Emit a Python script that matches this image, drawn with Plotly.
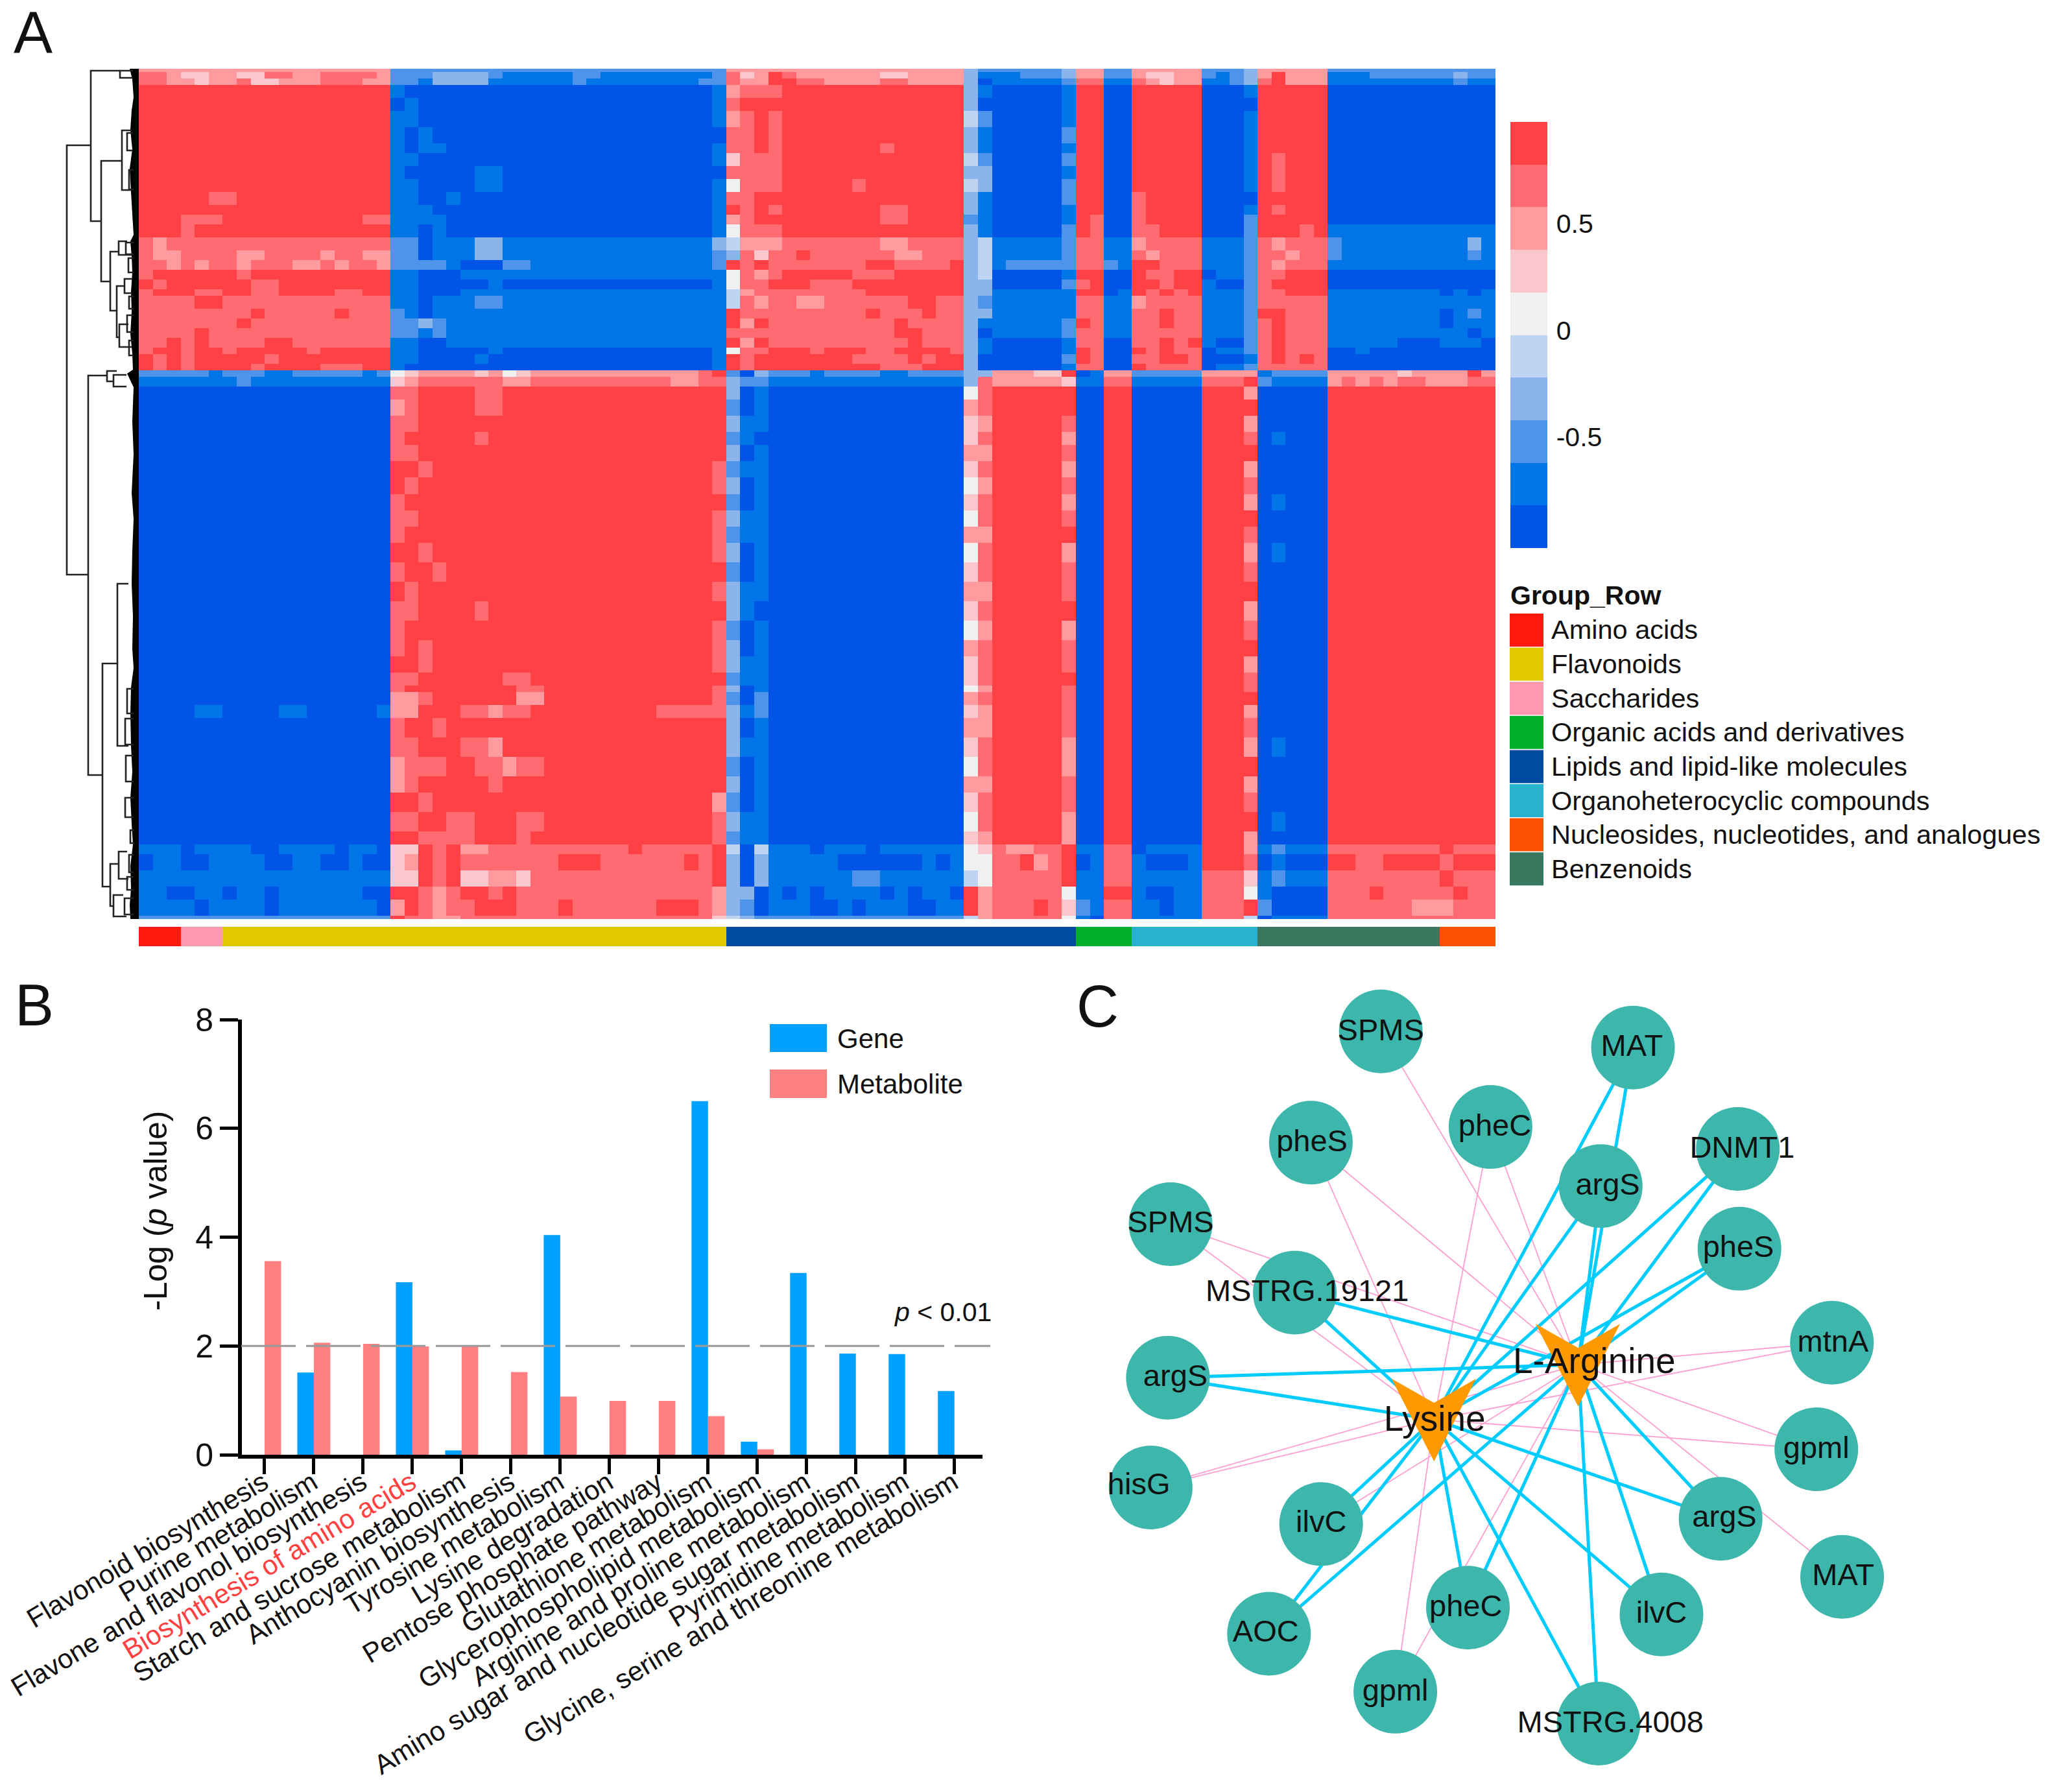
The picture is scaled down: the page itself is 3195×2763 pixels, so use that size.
import plotly.graph_objects as go

W, H = 3195, 2763
FONT = "Liberation Sans"

# ---------- Panel A: heatmap, read band by band ----------
# column blocks: L M c41 c42 c43 c44 N c59 c60 O c66 A B P Q c79 R S
# one digit = one colour step (0 deepest blue ... 9 deepest red); a short token keeps its last digit
block_widths = [18, 23, 1, 1, 1, 1, 14, 1, 1, 5, 1, 2, 2, 5, 3, 1, 5, 12]
band_rows = [1, 2, 2,
             4, 4, 5, 5, 3, 4, 4, 4, 4, 3, 3, 4,
             4, 3, 3, 3, 3, 2, 4, 3, 3, 3, 3, 2, 3, 2,
             2, 3,
             4, 5, 5, 4, 5, 5, 5, 5, 5, 5, 6, 6, 6, 6, 6, 5, 5, 4, 2, 4, 4, 6, 6, 6, 5, 6, 6, 4,
             3, 5, 5, 4, 5, 1]
band_levels = [
 "7 2 2 7 7 7 7 3 2 2 3 7 2 7 2 3 7 2",
 "887667766887788887 22233332111112211111111 2 8 6 7 98777777667777 3 1 11222 3 7 2 76677 212 3 79777 111222222322",
 "887767786677788877 22133331111112111111112 2 8 7 7 99887777887777 3 0 11111 2 8 1 87677 112 3 89777 111111111211",
 "9 1000 1 7 8 8 89 3 1 0 1 9 0 9 0 1 9 0",
 "9 0100 1 8 9 9 9 3 0 0 1 9 0 9 0 0 9 0",
 "9 1100 1 7 8 9 89 4 2 0 1 9 0 9 0 1 9 0",
 "9 1010 0 8 8 9 89 3 1 0 2 9 0 9 0 1 9 0",
 "9 1011000 1 8 8 9 89999999899999 3 1 0 1 9 0 9 0 1 9 0",
 "9 1100 1 6 8 8 89 4 2 0 2 9 0 9 0 1 989 0",
 "9 100000110 0 8 8 8 89 3 3 0 1 9 0 9 0 1 989 0",
 "9 110000110 1 5 8 8 89999989 4 3 0 2 9 0 9 0 1 989 0",
 "999998899999999999 110010000 1 8 8 9 9 3 1 0 2 9 0 89 0 0 9 0",
 "9 111000000 1 9 8 9 89999999889 3 1 0 1 9 0 899 0 1 989 0",
 "999888999999999988 111100 1 7 8 9 999999998899 2 1 0 1 98 0 89 0 2 9 0",
 "999899999999999999 110100 1 5 8 8 89 3 1 0 2 98 0 889 0 2 99989 1",
 "878888888888888888 220111331 3 4 7 7 78888888778888 3 4 1 2 8 1 78888 1 2 87888 211111111131",
 "877888877888878877 220111331 2 3 8 6 88988888877888 3 4 1 2 8 1 87888 1 2 88788 211111111121",
 "887878878887787887 222210002211 2 9 8 9 88888889988889 3 4 12 2 8 21 99888 1 2 87888 1",
 "899999989999999999 110001111 1 5 8 7 89999988899999 3 4 0 1 9 0 98899 01 2 88999 0",
 "989999998899999999 110000010 1 5 8 8 99988899999999 3 3 0 2 89 0 99899 10 2 89999 0",
 "899988998899998899 1100011 1 4 7 8 88888889999999 3 3 1 1 99 01 98989 11 2 88999 111111110101",
 "888899888888888888 110111221 1 4 8 7 88778888889988 3 2 1 1 8 1 78888 1 2 8 1",
 "888888889888889888 210111 1 9 8 8 88888889888988 3 3 1 1 8 1 88988 1 2 99888 111111110121",
 "888888898888888888 2232111 1 9 7 9 88888888898888 3 1 1 2 98 1 88988 1 2 89888 111111110111",
 "888898888888888888 2212111 1 8 8 8 88888888899888 3 0 1 2 8 1 8 1 2 89888 111111111101",
 "889898888998888888 110011 1 9 7 9 88888888889888 3 1 0 1 8 0 88989 10 2 89888 111110001110",
 "899899899999899999 1100000100 1 5 8 8 99989998899998 3 1 0 1 98 0 98988 01 2 89888 001000000",
 "989899999899999999 110000100 1 9 8 9 99999988889899 3 0 0 2 98 0 88998 0 1 89898 0",
 "989899998999988899 10000 1 9 8 9 99999999888999 3 0 0 1 8 0 98888 01 2 8 0",
 "222221222112222212 56777767567777777777778 9 2 0 3 22212222112222 3 3 77766 9 01 7 2 7 7 12222 777776777797",
 "111111121111111111 67888888778888888888778 8 3 2 2 1 3 8 7 6 1 8 1 8 9 21111 787878877788",
 "0 889999889 9 3 0 1 0 5 8 9 9 0 9 0 9 7 0 9",
 "0 789999889 9 2 0 1 0 7 8 9 9 0 9 0 9 9 0 9",
 "0 889999999 9 3 1 1 0 6 7 9 8 0 9 0 9 7 0 9",
 "0 899999899 9 2 1 0 0 6 8 9 7 0 9 0 9 8 010 9",
 "0 889999999 9 3 0 1 0 7 7 9 8 0 9 0 9 9 0 9",
 "0 998999999 8 2 1 1 0 6 8 9 7 0 9 0 9 7 0 9",
 "0 989999999 8 3 0 1 0 5 7 9 8 0 9 0 9 8 0 9",
 "0 899999999 9 2 0 1 0 6 8 9 7 0 9 0 9 7 010 9",
 "0 889999999 8 3 1 1 0 5 8 9 8 0 9 0 9 9 0 9",
 "0 899999999 8 2 1 1 0 7 7 9 9 0 9 0 9 8 0 9",
 "0 998999999 8 3 0 1 0 5 8 9 7 0 9 0 9 7 010 9",
 "0 899899999 9 2 0 1 0 6 8 9 8 0 9 0 9 8 0 9",
 "0 989999999 8 3 1 1 0 7 7 9 8 0 9 0 9 9 0 9",
 "0 889999899 9 3 1 0 0 6 8 9 9 0 9 0 9 7 0 9",
 "0 899999999 8 2 0 1 0 5 7 9 7 0 9 0 9 8 0 9",
 "0 898999999 8 3 0 1 0 7 8 9 8 0 9 0 9 9 0 9",
 "0 998999999 8 3 1 1 0 6 8 9 8 0 9 0 9 7 0 9",
 "0 889999998899 9 2 1 1 0 6 8 9 9 0 9 0 9 8 0 9",
 "0 899999999889 8 3 0 1 0 5 7 9 8 0 9 0 9 8 0 9",
 "0 778999999779 8 2 0 2 0 7 8 9 8 0 9 0 9 9 0 9",
 "000011000011000001 779998878899999999988 8 3 1 2 0 6 7 9 8 0 9 0 9 7 0 9",
 "0 899899999 9 3 0 1 0 7 7 9 8 0 9 0 9 8 0 9",
 "0 889998879 9 3 1 1 0 6 8 9 7 0 9 0 9 7 010 9",
 "0 788899887889 9 2 0 1 0 5 8 9 7 0 9 0 9 9 0 9",
 "0 789999989 9 3 0 1 0 7 7 9 8 0 9 0 9 7 0 9",
 "0 998999999 7 2 0 1 0 6 8 9 8 0 9 0 9 8 0 9",
 "0 889988999889 8 3 1 1 0 5 8 9 7 0 9 0 9 9 010 9",
 "0 998888999899 8 2 1 1 0 6 7 9 7 0 9 0 9 7 0 9",
 "111011110011110110 66989778888888888988888 9 4 0 4 11101110111111 5 6 87788 9 1 8 01111 9 7 12111 888888889888",
 "011001111001100100 67989888888899988888898 9 3 0 3 11111000000101 5 5 88978 9 01 8 10001 9 8 01000 998899998999",
 "1 66989667768888888888888 9 3 0 3 11111122111111 4 5 8 9 1 8 1 8 6 12111 888888889888",
 "110011011011111100 99878998988888888888888 7 3 3 0 10101111010110 9 7 8 5 1 9 10011 8 5 10000 888988888988",
 "111101111011111110 79878899988898888889998 7 3 2 0 11100101110011 9 7 88898 6 21 8 11011 8 9 20000 888888777888",
 "2 98877888 6 4 3 2 2 4 7 8 5 10 8 1 8 4 01 8",
]
heat_step_colors = ["#0055E6", "#0075E8", "#4D94EA", "#8BB3EC", "#BFD3F2",
                    "#F0F0F0", "#FAC8CC", "#FF9A9F", "#FF6B70", "#FF4045"]
heat_ticks = [0.522, 0.022, -0.478]
heat_tick_text = ["0.5", "0", "-0.5"]

# column annotation bar
bar_groups = ["Amino acids", "Saccharides", "Flavonoids", "Lipids and lipid-like molecules",
              "Organic acids and derivatives", "Organoheterocyclic compounds", "Benzenoids",
              "Nucleosides, nucleotides, and analogues"]
bar_group_columns = [3, 3, 36, 25, 4, 9, 13, 4]
bar_group_colors = ["#FF1A10", "#FF99B0", "#E3C800", "#004AA0", "#00AE2A", "#28B2CE", "#38785F", "#FA5000"]
legend_order = [0, 2, 1, 4, 3, 5, 7, 6]

# dendrogram merges: parent height, top y, bottom y, top child height, bottom child height
dendro_merges = [
 (103, 224, 886, 140, 136), (140, 109, 341, 185, 156), (156, 248, 434, 187, 169),
 (188, 201, 293, 203, 203), (170, 388, 479, 183, 180), (183, 372, 393, 196, 203),
 (180, 441, 520, 192, 184), (192, 430, 452, 204, 204), (184, 500, 535, 198, 203),
 (185, 109, 120, 205, 205), (136, 579, 1195, 165, 158), (165, 572, 588, 180, 175),
 (175, 578, 596, 195, 195), (158, 1023, 1367, 181, 170), (181, 900, 1150, 198, 198),
 (170, 1332, 1397, 183, 175), (183, 1313, 1355, 196, 198), (175, 1380, 1413, 190, 195),
 (196, 205, 232, 205, 205), (199, 262, 292, 206, 206), (194, 374, 392, 206, 206),
 (198, 398, 420, 206, 206), (199, 457, 476, 206, 206), (196, 486, 512, 206, 206),
 (199, 525, 548, 206, 206), (196, 1062, 1100, 206, 206), (193, 1108, 1148, 206, 206),
 (194, 1165, 1205, 206, 206), (193, 1230, 1260, 206, 206), (199, 1318, 1345, 206, 206),
 (196, 1352, 1372, 206, 206), (192, 1385, 1410, 206, 206), (201, 1280, 1300, 207, 207),
]
leaf_edge_y = [106, 122, 150, 170, 200, 230, 260, 296, 330, 362, 372, 395, 420, 450, 480, 515, 545, 570, 576, 597, 650, 700, 760, 800, 850, 900, 950, 1000, 1030, 1060, 1100, 1150, 1190, 1230, 1270, 1302, 1335, 1370, 1395, 1417]
leaf_edge_h = [200, 204, 206, 203, 201, 204, 200, 202, 204, 206, 201, 203, 204, 202, 203, 201, 204, 205, 196, 206, 204, 206, 203, 206, 204, 203, 205, 204, 206, 202, 201, 202, 204, 201, 203, 205, 201, 202, 200, 201]

# ---------- Panel B: bars ----------
pathways = ["Flavonoid biosynthesis", "Purine metabolism", "Flavone and flavonol biosynthesis",
            "Biosynthesis of amino acids", "Starch and sucrose metabolism", "Anthocyanin biosynthesis",
            "Tyrosine metabolism", "Lysine degradation", "Pentose phosphate pathway",
            "Glutathione metabolism", "Glycerophospholipid metabolism", "Arginine and proline metabolism",
            "Amino sugar and nucleotide sugar metabolism", "Pyrimidine metabolism",
            "Glycine, serine and threonine metabolism"]
gene_values = [0, 1.51, 0, 3.17, 0.08, 0, 4.04, 0, 0, 6.5, 0.24, 3.34, 1.86, 1.85, 1.17]
metabolite_values = [3.56, 2.06, 2.04, 1.99, 1.99, 1.52, 1.07, 0.99, 0.99, 0.71, 0.1, 0, 0, 0, 0]
threshold = 2
y_ticks = [0, 2, 4, 6, 8]

# ---------- Panel C: network ----------
node_labels = ["SPMS", "MAT", "pheC", "pheS", "argS", "DNMT1", "SPMS", "pheS", "MSTRG.19121", "mtnA", "argS",
               "gpml", "hisG", "ilvC", "argS", "MAT", "AOC", "pheC", "ilvC", "gpml", "MSTRG.4008"]
node_x = [578, 1047, 782, 448, 987, 1242, 187, 1245, 418, 1417, 182, 1388, 150, 467, 1210, 1436, 370, 740, 1100, 605, 983]
node_y = [112, 143, 295, 325, 408, 337, 481, 528, 612, 708, 775, 912, 985, 1055, 1045, 1156, 1265, 1215, 1228, 1376, 1437]
label_x = [578, 1045, 790, 450, 1000, 1250, 187, 1243, 441, 1419, 196, 1388, 128, 467, 1217, 1438, 364, 736, 1100, 605, 1005]
label_y = [114, 144, 297, 327, 410, 339, 482, 529, 614, 710, 776, 914, 984, 1056, 1046, 1157, 1266, 1217, 1229, 1378, 1439]
hub_labels = ["L-Arginine", "Lysine"]
hub_x = [945, 677]
hub_y = [750, 855]
hub_label_x = [975, 678]
hub_label_y = [749, 859]
hub_notch = [[-79, -78], [0, -32], [78, -78], [0, 80]]
cyan_to_arginine = [1, 4, 5, 7, 8, 10, 14, 16, 17, 18, 20]
cyan_to_lysine = [1, 4, 5, 7, 8, 10, 13, 14, 16, 17, 18, 20]
pink_to_arginine = [0, 2, 3, 6, 9, 11, 12, 13, 15, 19]
pink_to_lysine = [2, 3, 6, 9, 11, 12, 13, 19]


def xdom(a, b):
    return [a / W, b / W]


def ydom(top, bottom):
    return [1 - bottom / H, 1 - top / H]


def decode_band(text):
    out = []
    for tok, width in zip(text.split(), block_widths):
        digits = [int(c) for c in tok][:width]
        out += digits + [digits[-1]] * (width - len(digits))
    return out


z = []
for count, text in zip(band_rows, band_levels):
    row = [(lv - 4.5) / 5 for lv in decode_band(text)]
    z += [row] * count

scale = []
for i, c in enumerate(heat_step_colors):
    scale += [[i / 10, c], [(i + 1) / 10, c]]

fig = go.Figure()
fig.add_trace(go.Heatmap(
    z=z, zmin=-1, zmax=1, colorscale=scale, xaxis="x", yaxis="y", hoverinfo="skip",
    colorbar=dict(x=2329 / W, xanchor="left", y=1 - 188 / H, yanchor="top", len=657, lenmode="pixels",
                  thickness=57, thicknessmode="pixels", xpad=0, ypad=0, outlinewidth=0,
                  tickmode="array", tickvals=heat_ticks, ticktext=heat_tick_text,
                  ticks="outside", ticklen=6, tickcolor="rgba(0,0,0,0)",
                  tickfont=dict(family=FONT, size=41, color="#111")),
))

bar_z = [[]]
for gi, n in enumerate(bar_group_columns):
    bar_z[0] += [gi] * n
gscale = []
ng = len(bar_group_colors)
for i, c in enumerate(bar_group_colors):
    gscale += [[i / ng, c], [(i + 1) / ng, c]]
fig.add_trace(go.Heatmap(z=bar_z, zmin=-0.5, zmax=ng - 0.5, colorscale=gscale, showscale=False,
                         xaxis="x2", yaxis="y2", hoverinfo="skip"))

dx, dy = [], []
for h, top, bot, ht, hb in dendro_merges:
    dx += [ht, h, h, hb, None]
    dy += [top, top, bot, bot, None]
fig.add_trace(go.Scatter(x=leaf_edge_h + [214, 214], y=leaf_edge_y + [1417, 106], fill="toself", mode="none",
                         fillcolor="#000000", xaxis="x3", yaxis="y3", hoverinfo="skip"))
fig.add_trace(go.Scatter(x=dx, y=dy, mode="lines", line=dict(color="#222222", width=2.6),
                         xaxis="x3", yaxis="y3", hoverinfo="skip"))

cat_x = list(range(len(pathways)))
fig.add_trace(go.Bar(x=cat_x, y=gene_values, name="Gene", marker=dict(color="#00A0FF", line_width=0),
                     xaxis="x4", yaxis="y4"))
fig.add_trace(go.Bar(x=cat_x, y=metabolite_values, name="Metabolite", marker=dict(color="#FF8080", line_width=0),
                     xaxis="x4", yaxis="y4"))


def edge_trace(idx_a, idx_l, color, width):
    xs, ys = [], []
    for hub, idx in ((0, idx_a), (1, idx_l)):
        for n in idx:
            xs += [node_x[n], hub_x[hub], None]
            ys += [node_y[n], hub_y[hub], None]
    return go.Scatter(x=xs, y=ys, mode="lines", line=dict(color=color, width=width),
                      xaxis="x5", yaxis="y5", hoverinfo="skip")


fig.add_trace(edge_trace(pink_to_arginine, pink_to_lysine, "#FF9FD0", 1.8))
fig.add_trace(edge_trace(cyan_to_arginine, cyan_to_lysine, "#00CCFF", 5))
fig.add_trace(go.Scatter(x=node_x, y=node_y, mode="markers",
                         marker=dict(size=129, color="#3DB7AB", line_width=0),
                         xaxis="x5", yaxis="y5", hoverinfo="skip"))
for hx, hy in zip(hub_x, hub_y):
    fig.add_trace(go.Scatter(x=[hx + p[0] for p in hub_notch] + [hx + hub_notch[0][0]],
                             y=[hy + p[1] for p in hub_notch] + [hy + hub_notch[0][1]],
                             mode="lines", fill="toself", fillcolor="#FF9900", line=dict(width=0, color="#FF9900"),
                             xaxis="x5", yaxis="y5", hoverinfo="skip"))
fig.add_trace(go.Scatter(x=label_x, y=label_y, mode="text", text=node_labels, textposition="middle center",
                         textfont=dict(family=FONT, size=47, color="#111"), xaxis="x5", yaxis="y5", hoverinfo="skip"))
fig.add_trace(go.Scatter(x=hub_label_x, y=hub_label_y, mode="text", text=hub_labels, textposition="middle center",
                         textfont=dict(family=FONT, size=55, color="#111"), xaxis="x5", yaxis="y5", hoverinfo="skip"))

tick_text = [f'<span style="color:#FF4040">{p}</span>' if p == "Biosynthesis of amino acids" else p for p in pathways]
hidden = dict(visible=False, showgrid=False, zeroline=False, automargin=False)


def note(text, x, y, size, anchor="left", **kw):
    return dict(text=text, x=x / W, y=1 - y / H, xref="paper", yref="paper", xanchor=anchor, yanchor="middle",
                showarrow=False, font=dict(family=FONT, size=size, color=kw.pop("color", "#111")), **kw)


annotations = [
    note("A", 19, 50, 90), note("B", 21, 1550, 90), note("C", 1658, 1552, 90),
    note("<b>Group_Row</b>", 2327, 918, 41),
    note("-Log (<i>p</i> value)", 240, 1867, 50, anchor="center", textangle=-90),
    note("Gene", 1289, 1601, 42), note("Metabolite", 1289, 1671, 42),
    note("<i>p</i> &lt; 0.01", 1376, 2023, 41),
]
shapes = [
    dict(type="rect", xref="paper", yref="paper", x0=1187 / W, x1=1275 / W, y0=1 - 1622 / H, y1=1 - 1579 / H,
         fillcolor="#00A0FF", line_width=0),
    dict(type="rect", xref="paper", yref="paper", x0=1187 / W, x1=1275 / W, y0=1 - 1693 / H, y1=1 - 1649 / H,
         fillcolor="#FF8080", line_width=0),
    dict(type="line", xref="paper", yref="y4", x0=372 / W, x1=1527 / W, y0=threshold, y1=threshold,
         line=dict(color="#999999", width=3, dash="84px,16px")),
]
for row, gi in enumerate(legend_order):
    top = 946 + 52.6 * row
    shapes.append(dict(type="rect", xref="paper", yref="paper", x0=2328 / W, x1=2380 / W,
                       y0=1 - (top + 51) / H, y1=1 - top / H, fillcolor=bar_group_colors[gi], line_width=0))
    annotations.append(note(bar_groups[gi], 2390, top + 25, 41.5))

fig.update_layout(
    template="none",
    width=W, height=H, autosize=False, margin=dict(l=0, r=0, t=0, b=0, pad=0, autoexpand=False), showlegend=False,
    paper_bgcolor="white", plot_bgcolor="white", barmode="group", bargap=0.33, bargroupgap=0,
    xaxis=dict(domain=xdom(214, 2306), range=[-0.5, 96.5], anchor="y", **hidden),
    yaxis=dict(domain=ydom(106, 1417), range=[len(z) - 0.5, -0.5], anchor="x", **hidden),
    xaxis2=dict(domain=xdom(214, 2306), range=[-0.5, 96.5], anchor="y2", **hidden),
    yaxis2=dict(domain=ydom(1429, 1459), range=[-0.5, 0.5], anchor="x2", **hidden),
    xaxis3=dict(domain=xdom(90, 214), range=[90, 214], anchor="y3", **hidden),
    yaxis3=dict(domain=ydom(106, 1417), range=[1417, 106], anchor="x3", **hidden),
    xaxis4=dict(domain=xdom(373, 1515), range=[-0.46, 14.57], anchor="y4", showgrid=False, zeroline=False,
                automargin=False,
                showline=True, linecolor="black", linewidth=6, ticks="outside", ticklen=24, tickwidth=5,
                tickcolor="black", tickmode="array", tickvals=cat_x, ticktext=tick_text, tickangle=-31,
                ticklabelstandoff=-28, ticklabelshift=-2,
                tickfont=dict(family=FONT, size=42, color="#111")),
    yaxis4=dict(domain=ydom(1572, 2243), range=[0, 8], anchor="x4", showgrid=False, zeroline=False,
                automargin=False,
                showline=True, linecolor="black", linewidth=6, ticks="outside", ticklen=28, tickwidth=5,
                tickcolor="black", tickmode="array", tickvals=y_ticks,
                tickfont=dict(family=FONT, size=50, color="#111")),
    xaxis5=dict(domain=xdom(1650, 2950), range=[0, 1568], anchor="y5", **hidden),
    yaxis5=dict(domain=ydom(1500, 2763), range=[1568, 0], anchor="x5", **hidden),
    annotations=annotations, shapes=shapes,
)

fig.write_html("out.html", config=dict(displayModeBar=False),
               post_script="document.body.style.margin='0';document.body.style.overflow='hidden';")
